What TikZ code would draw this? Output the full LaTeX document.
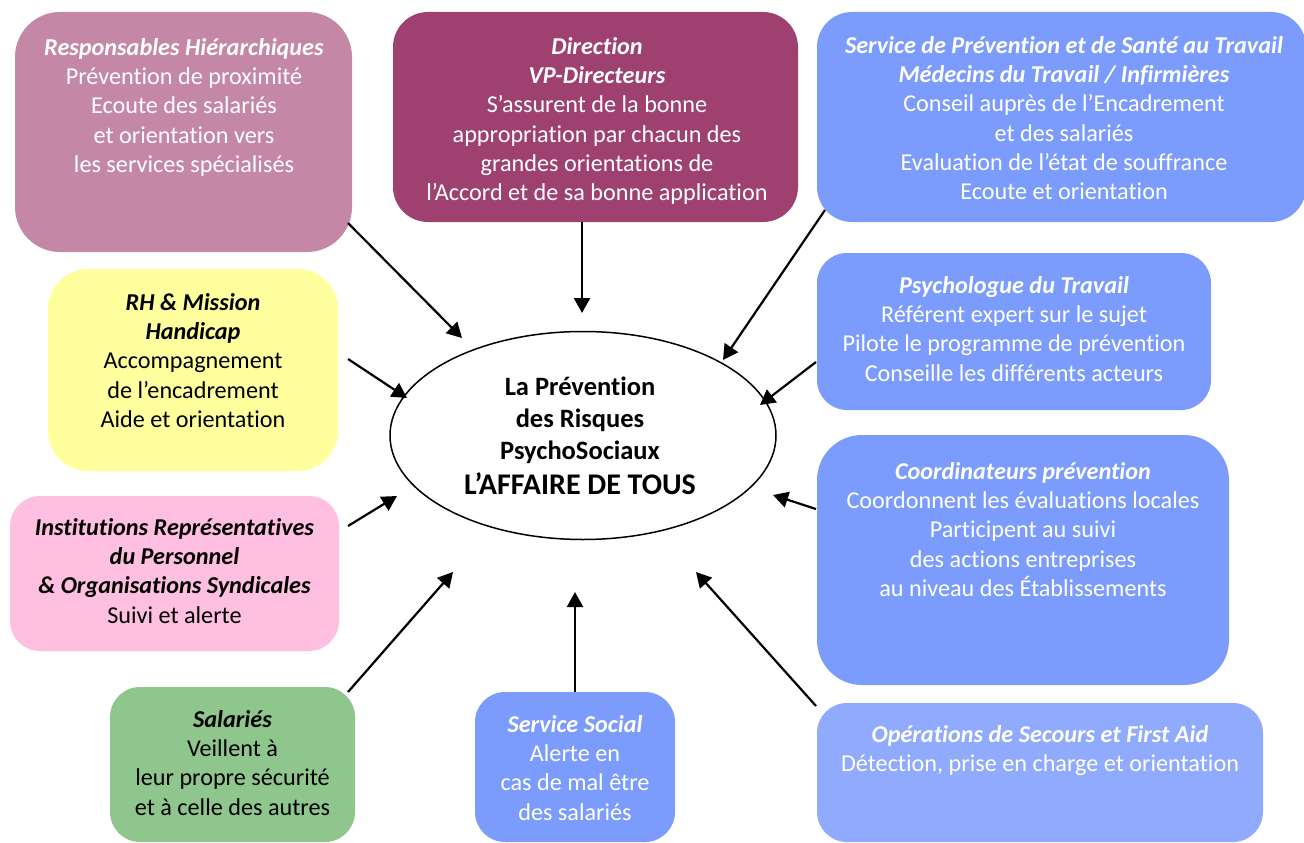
\documentclass[tikz,border=0pt]{standalone}
\usepackage{fontspec}
\setmainfont{Carlito}[RawFeature=-liga]
\usetikzlibrary{shapes.geometric,arrows.meta}
\definecolor{cResp}{HTML}{C487A5}
\definecolor{cDir}{HTML}{9E4170}
\definecolor{cBlue}{HTML}{7B9CFC}
\definecolor{cBlueL}{HTML}{90AAFD}
\definecolor{cYel}{HTML}{FFFF9E}
\definecolor{cPink}{HTML}{FFBFE0}
\definecolor{cGreen}{HTML}{8FC68D}
\newcommand\boxtitle[1]{\textbf{\textit{#1}}}
\newcommand\firststrut{\rule{0pt}{20pt}}
\begin{document}
\begin{tikzpicture}[x=1pt,y=-1pt,
  panel/.style={rectangle, draw=none, inner sep=0pt},
  txt/.style={anchor=north, inner sep=0pt, align=center, font=\fontsize{24.2}{29.3}\selectfont},
  arr/.style={line width=2.2pt, -{Triangle[length=15pt,width=16pt]}}]
\useasboundingbox (0,0) rectangle (1304,843);

% boxes
\node[panel, fill=cResp, rounded corners=45pt, minimum width=337pt, minimum height=240pt] (resp) at (183.5,132) {};
\node[panel, fill=cDir, rounded corners=35pt, minimum width=405pt, minimum height=210pt] (dir) at (595.5,117) {};
\node[panel, fill=cBlue, rounded corners=35pt, minimum width=489pt, minimum height=210pt] (sst) at (1061.5,117) {};
\node[panel, fill=cBlue, rounded corners=30pt, minimum width=394pt, minimum height=157pt] (psy) at (1014,331.5) {};
\node[panel, fill=cBlue, rounded corners=45pt, minimum width=412pt, minimum height=250pt] (coord) at (1023,560) {};
\node[panel, fill=cBlueL, rounded corners=30pt, minimum width=446pt, minimum height=139pt] (oper) at (1040,772.5) {};
\node[panel, fill=cBlue, rounded corners=30pt, minimum width=200pt, minimum height=150pt] (social) at (575,767) {};
\node[panel, fill=cGreen, rounded corners=30pt, minimum width=245pt, minimum height=155pt] (sal) at (232.5,764.5) {};
\node[panel, fill=cPink, rounded corners=30pt, minimum width=329pt, minimum height=155pt] (inst) at (174.5,573.5) {};
\node[panel, fill=cYel, rounded corners=40pt, minimum width=290pt, minimum height=202pt] (rh) at (193,370) {};

% texts
\node[txt, text=white] (resp-t) at (184,35) {\firststrut\boxtitle{Responsables Hiérarchiques}\\Prévention de proximité\\Ecoute des salariés\\et orientation vers\\les services spécialisés};
\node[txt, text=white] (dir-t) at (597,34) {\firststrut\boxtitle{Direction}\\\boxtitle{VP-Directeurs}\\S’assurent de la bonne\\appropriation par chacun des\\grandes orientations de\\l’Accord et de sa bonne application};
\node[txt, text=white] (sst-t) at (1064,33) {\firststrut\boxtitle{Service de Prévention et de Santé au Travail}\\\boxtitle{Médecins du Travail / Infirmières}\\Conseil auprès de l’Encadrement\\et des salariés\\Evaluation de l’état de souffrance\\Ecoute et orientation};
\node[txt, text=white] (psy-t) at (1014,273) {\firststrut\boxtitle{Psychologue du Travail}\\Référent expert sur le sujet\\Pilote le programme de prévention\\Conseille les différents acteurs};
\node[txt, text=white] (coord-t) at (1023,459) {\firststrut\boxtitle{Coordinateurs prévention}\\Coordonnent les évaluations locales\\Participent au suivi\\des actions entreprises\\au niveau des Établissements};
\node[txt, text=white] (oper-t) at (1040,722) {\firststrut\boxtitle{Opérations de Secours et First Aid}\\Détection, prise en charge et orientation};
\node[txt, text=white] (social-t) at (575,712) {\firststrut\boxtitle{Service Social}\\Alerte en\\cas de mal être\\des salariés};
\node[txt, text=black] (sal-t) at (232.5,707) {\firststrut\boxtitle{Salariés}\\Veillent à\\leur propre sécurité\\et à celle des autres};
\node[txt, text=black] (inst-t) at (174.5,515) {\firststrut\boxtitle{Institutions Représentatives}\\\boxtitle{du Personnel}\\\boxtitle{\& Organisations Syndicales}\\Suivi et alerte};
\node[txt, text=black] (rh-t) at (193,290) {\firststrut\boxtitle{RH \& Mission}\\\boxtitle{Handicap}\\Accompagnement\\de l’encadrement\\Aide et orientation};

% centre
\node[ellipse, draw=black, line width=1.5pt, fill=white, minimum width=386pt, minimum height=208pt, inner sep=0pt] (centre) at (583,435.5) {};
\node[anchor=north, inner sep=0pt, align=center, font=\fontsize{26.5}{32}\selectfont\bfseries] (centre-t) at (580,371) {\rule{0pt}{24pt}La Prévention\\des Risques\\PsychoSociaux};
\node[anchor=north, inner sep=0pt, font=\fontsize{30}{34}\selectfont\bfseries] (centre-t2) at (580,468) {\rule{0pt}{26pt}L’AFFAIRE DE TOUS};

% arrow ends
\coordinate (a1s) at (348,223);  \coordinate (a1e) at (462,338);
\coordinate (a2s) at (582,222);  \coordinate (a2e) at (582,313);
\coordinate (a3s) at (825,210);  \coordinate (a3e) at (723,360);
\coordinate (a4s) at (816,362);  \coordinate (a4e) at (760,405);
\coordinate (a5s) at (348,359);  \coordinate (a5e) at (407,398);
\coordinate (a6s) at (816,509);  \coordinate (a6e) at (773,495);
\coordinate (a7s) at (348,526);  \coordinate (a7e) at (397,496);
\coordinate (a8s) at (348,692);  \coordinate (a8e) at (453,572);
\coordinate (a9s) at (575,692);  \coordinate (a9e) at (575,592);
\coordinate (a10s) at (816,706); \coordinate (a10e) at (696,572);

\draw[arr] (a1s) -- (a1e);
\draw[arr] (a2s) -- (a2e);
\draw[arr] (a3s) -- (a3e);
\draw[arr] (a4s) -- (a4e);
\draw[arr] (a5s) -- (a5e);
\draw[arr] (a6s) -- (a6e);
\draw[arr] (a7s) -- (a7e);
\draw[arr] (a8s) -- (a8e);
\draw[arr] (a9s) -- (a9e);
\draw[arr] (a10s) -- (a10e);
\end{tikzpicture}
\end{document}
